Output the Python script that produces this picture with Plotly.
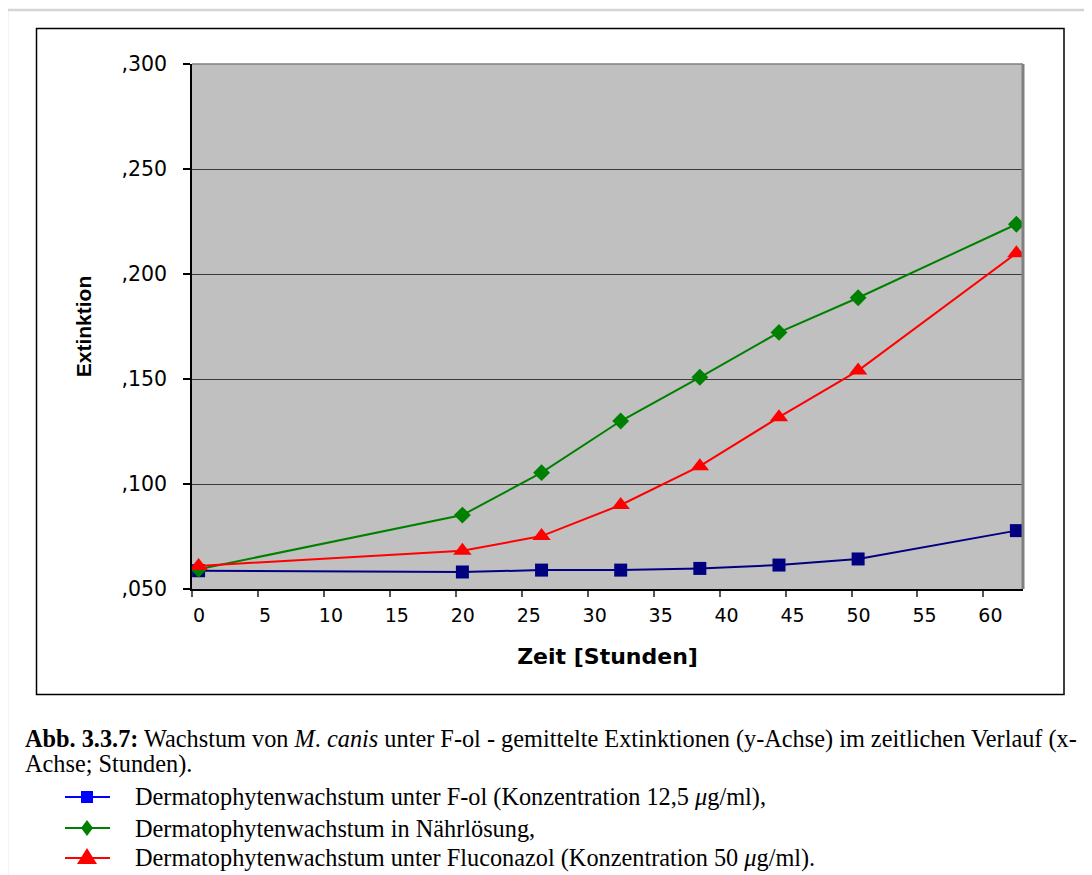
import plotly.graph_objects as go

# ---- data ----
zeit = [0.5, 20.5, 26.5, 32.5, 38.5, 44.5, 50.5, 62.5]
f_ol = [0.0587, 0.0581, 0.0590, 0.0590, 0.0598, 0.0614, 0.0643, 0.0778]
naehrloesung = [0.0594, 0.0852, 0.1054, 0.1300, 0.1508, 0.1722, 0.1887, 0.2237]
fluconazol = [0.0610, 0.0682, 0.0752, 0.0900, 0.1085, 0.1318, 0.1540, 0.2099]

x_ticks = [0, 5, 10, 15, 20, 25, 30, 35, 40, 45, 50, 55, 60]
y_ticks = [0.05, 0.10, 0.15, 0.20, 0.25, 0.30]
y_ticktext = [",050", ",100", ",150", ",200", ",250", ",300"]

series_names = [
    "Dermatophytenwachstum unter F-ol (Konzentration 12,5 <i>μ</i>g/ml),",
    "Dermatophytenwachstum in Nährlösung,",
    "Dermatophytenwachstum unter Fluconazol (Konzentration 50 <i>μ</i>g/ml).",
]

OFF = 8  # page body margin in the browser
W, H = 1092 - OFF, 875 - OFF
# plot area in page pixels
L, R, T, B = 192, 1023, 64, 589


def px(x):
    return (x - L) / (R - L)


def py(y):
    return (B - y) / (B - T)


fig = go.Figure()
fig.add_trace(go.Scatter(x=zeit, y=f_ol, mode="lines+markers",
                         line=dict(color="#000080", width=2),
                         marker=dict(symbol="square", size=13, color="#000080"),
                         showlegend=False))
fig.add_trace(go.Scatter(x=zeit, y=naehrloesung, mode="lines+markers",
                         line=dict(color="#008000", width=2),
                         marker=dict(symbol="diamond", size=13, color="#008000"),
                         showlegend=False))
fig.add_trace(go.Scatter(x=zeit, y=fluconazol, mode="lines+markers",
                         line=dict(color="#FF0000", width=2),
                         marker=dict(symbol="triangle-up", size=16, color="#FF0000"),
                         showlegend=False))

shapes = []
# page border (top and left light grey)
shapes.append(dict(type="line", xref="paper", yref="paper", x0=px(7), x1=px(1092), y0=py(10), y1=py(10),
                   line=dict(color="#D4D4D4", width=2.5)))
shapes.append(dict(type="line", xref="paper", yref="paper", x0=px(7), x1=px(7), y0=py(10), y1=py(875),
                   line=dict(color="#D4D4D4", width=2.5)))
# chart frame
shapes.append(dict(type="rect", xref="paper", yref="paper", x0=px(36.5), x1=px(1064), y0=py(28.5), y1=py(694.5),
                   line=dict(color="black", width=1.5)))
# plot area top and right borders
shapes.append(dict(type="line", xref="paper", yref="paper", x0=0, x1=1, y0=1, y1=1,
                   line=dict(color="#808080", width=1.5)))
shapes.append(dict(type="line", xref="paper", yref="paper", x0=1, x1=1, y0=0, y1=1,
                   line=dict(color="#808080", width=3)))

# caption legend samples
leg_rows = [797, 828, 858]
leg_colors = ["#0000FF", "#008000", "#FF0000"]
cx = 87
for yy, col, kind in zip(leg_rows, leg_colors, ["square", "diamond", "triangle"]):
    shapes.append(dict(type="line", xref="paper", yref="paper", x0=px(65), x1=px(110), y0=py(yy), y1=py(yy),
                       line=dict(color=col, width=2)))
    if kind == "square":
        shapes.append(dict(type="rect", xref="paper", yref="paper", x0=px(cx - 6), x1=px(cx + 6),
                           y0=py(yy - 6), y1=py(yy + 6), fillcolor=col, line=dict(width=0)))
    elif kind == "diamond":
        path = "M {} {} L {} {} L {} {} L {} {} Z".format(px(cx), py(yy - 8), px(cx + 6), py(yy),
                                                         px(cx), py(yy + 8), px(cx - 6), py(yy))
        shapes.append(dict(type="path", xref="paper", yref="paper", path=path, fillcolor=col, line=dict(width=0)))
    else:
        path = "M {} {} L {} {} L {} {} Z".format(px(cx), py(yy - 10), px(cx + 10), py(yy + 6),
                                                 px(cx - 10), py(yy + 6))
        shapes.append(dict(type="path", xref="paper", yref="paper", path=path, fillcolor=col, line=dict(width=0)))

serif = dict(family="Liberation Serif, Times New Roman, serif", size=24.3, color="black")
annotations = [
    dict(xref="paper", yref="paper", x=px(23), y=py(739), xanchor="left", yanchor="middle", showarrow=False,
         text="<b>Abb. 3.3.7:</b> Wachstum von <i>M</i>. <i>canis</i> unter F-ol - gemittelte Extinktionen "
              "(y-Achse) im zeitlichen Verlauf (x-", font=serif),
    dict(xref="paper", yref="paper", x=px(23), y=py(764), xanchor="left", yanchor="middle", showarrow=False,
         text="Achse; Stunden).", font=serif),
]
for yy, name in zip(leg_rows, series_names):
    annotations.append(dict(xref="paper", yref="paper", x=px(133), y=py(yy), xanchor="left", yanchor="middle",
                            showarrow=False, text=name, font=serif))

fig.update_layout(
    width=W, height=H, autosize=False,
    margin=dict(l=L - OFF, r=W - (R - OFF), t=T - OFF, b=H - (B - OFF), pad=0),
    paper_bgcolor="white", plot_bgcolor="#C0C0C0",
    font=dict(family="DejaVu Sans, Arial, sans-serif", size=19, color="black"),
    xaxis=dict(range=[0, 63], tickvals=x_ticks, ticks="outside", ticklen=6, tickwidth=1.5, tickcolor="#555555",
               showline=True, linecolor="black", linewidth=1.5, showgrid=False, zeroline=False,
               ticklabelshift=7, ticklabelstandoff=2,
               tickfont=dict(family="DejaVu Sans, Arial, sans-serif", size=19),
               title=dict(text="<b>Zeit [Stunden]</b>", standoff=24,
                          font=dict(family="DejaVu Sans, Arial, sans-serif", size=22))),
    yaxis=dict(range=[0.05, 0.30], tickvals=y_ticks, ticktext=y_ticktext, ticks="outside", ticklen=7,
               tickwidth=1.5, tickcolor="black", showline=True, linecolor="black", linewidth=1.5,
               showgrid=True, gridcolor="#3A3A3A", gridwidth=1.3, zeroline=False,
               ticklabelstandoff=12,
               tickfont=dict(family="DejaVu Sans, Arial, sans-serif", size=20.5),
               title=dict(text="<b>Extinktion</b>", standoff=24,
                          font=dict(family="Liberation Sans, Arial, sans-serif", size=21))),
    shapes=shapes,
    annotations=annotations,
)

fig.write_html("out.html")
